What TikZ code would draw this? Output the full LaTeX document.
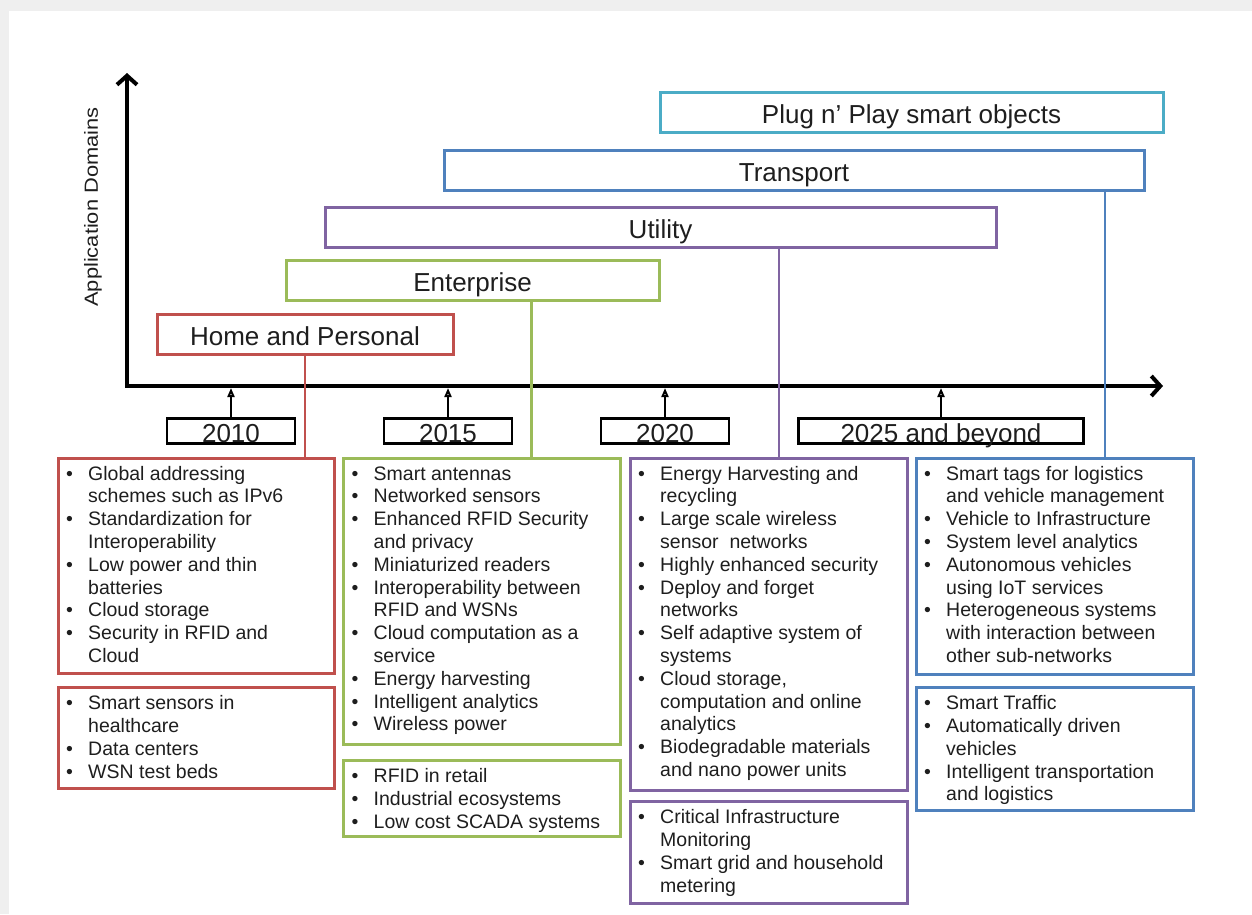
\documentclass[tikz,border=0pt]{standalone}
\usepackage{fontspec}
\setmainfont{Liberation Sans}
\usetikzlibrary{arrows.meta}

\definecolor{cred}{HTML}{C0504D}
\definecolor{cgreen}{HTML}{9BBB59}
\definecolor{cpurple}{HTML}{8064A2}
\definecolor{cblue}{HTML}{4F81BD}
\definecolor{ccyan}{HTML}{4BACC6}
\definecolor{ink}{HTML}{1E1E1E}
\definecolor{pagegray}{HTML}{EFEFEF}

% bulleted lines: first line of an item, and its continuation lines
\newcommand\bitem[1]{\makebox[22pt][l]{\textbullet}#1}
\newcommand\bcont[1]{\hspace*{22pt}#1}

\tikzset{
  domain/.style={draw=#1, line width=3pt, minimum height=40pt, inner sep=0pt,
    text height=22pt, text depth=0pt, text=ink, font=\fontsize{26}{30}\selectfont},
  yearbox/.style={draw=black, line width=2.5pt, minimum width=128pt, minimum height=25pt,
    inner sep=0pt, text height=22pt, text depth=0pt, text=ink, font=\fontsize{26}{30}\selectfont},
  listbox/.style={draw=#1, line width=3pt, anchor=north west, inner sep=0pt},
  listtext/.style={anchor=north west, inner sep=0pt, align=left, text=ink,
    font=\fontsize{19.5}{22.8}\selectfont},
  axisline/.style={line width=4pt, line join=miter, {Straight Barb[length=9pt,width=20pt]}-{Straight Barb[length=9pt,width=20pt]}},
  yeararrow/.style={line width=2.5pt, -{Triangle[open,length=9pt,width=7pt,line width=2pt]}},
  link/.style={draw=#1, line width=2.5pt},
}

\begin{document}
\begin{tikzpicture}[x=1pt,y=-1pt]
\useasboundingbox (0,0) rectangle (1252,914);
% page background and white sheet
\fill[pagegray] (0,0) rectangle (1252,914);
\fill[white] (9,11) rectangle (1252,914);

% axes
\coordinate (O) at (127,386);
\coordinate (ytop) at (127,73);
\coordinate (xend) at (1163,386);
\draw[axisline] (ytop) -- (O) -- (xend);
\node[rotate=90, text=ink, font=\fontsize{19}{22}\selectfont, inner sep=0pt] (ylab) at (93,207)
  {\scalebox{1.15}[1]{Application Domains}};

% application domains
\node[domain=ccyan, minimum width=503pt] (plug) at (911.5,112) {Plug n' Play smart objects};
\node[domain=cblue, minimum width=700pt] (trans) at (794,170) {Transport};
\node[domain=cpurple, minimum width=671pt] (util) at (660.5,227) {Utility};
\node[domain=cgreen, minimum width=373pt] (ent) at (472.5,280) {Enterprise};
\node[domain=cred, minimum width=296pt] (home) at (305,334) {Home and Personal};

% years
\node[yearbox] (y10) at (231,431) {2010};
\node[yearbox] (y15) at (448,431) {2015};
\node[yearbox] (y20) at (665,431) {2020};
\node[yearbox, minimum width=285pt] (y25) at (941,431) {2025 and beyond};
\foreach \y in {y10,y15,y20,y25}
  \draw[yeararrow] (\y.north) -- ([yshift=-2pt]\y.north |- O);

% technology lists
\node[listbox=cred, minimum width=276pt, minimum height=215pt] (r1) at (56.5,456.5) {};
\node[listbox=cred, minimum width=276pt, minimum height=101pt] (r2) at (56.5,686) {};
\node[listbox=cgreen, minimum width=277pt, minimum height=286pt] (g1) at (342,456.5) {};
\node[listbox=cgreen, minimum width=277pt, minimum height=76pt] (g2) at (342,759) {};
\node[listbox=cpurple, minimum width=277pt, minimum height=332pt] (p1) at (628.5,456.5) {};
\node[listbox=cpurple, minimum width=277pt, minimum height=102pt] (p2) at (628.5,800) {};
\node[listbox=cblue, minimum width=277pt, minimum height=216pt] (b1) at (914.5,456.5) {};
\node[listbox=cblue, minimum width=277pt, minimum height=123pt] (b2) at (914.5,686) {};

\node[listtext] (r1t) at ([xshift=9.5pt,yshift=-7.5pt]r1.north west) {\strut
  \bitem{Global addressing}\\ \bcont{schemes such as IPv6}\\
  \bitem{Standardization for}\\ \bcont{Interoperability}\\
  \bitem{Low power and thin}\\ \bcont{batteries}\\
  \bitem{Cloud storage}\\
  \bitem{Security in RFID and}\\ \bcont{Cloud}};
\node[listtext] (r2t) at ([xshift=9.5pt,yshift=-7.5pt]r2.north west) {\strut
  \bitem{Smart sensors in}\\ \bcont{healthcare}\\
  \bitem{Data centers}\\
  \bitem{WSN test beds}};
\node[listtext] (g1t) at ([xshift=9.5pt,yshift=-7.5pt]g1.north west) {\strut
  \bitem{Smart antennas}\\
  \bitem{Networked sensors}\\
  \bitem{Enhanced RFID Security}\\ \bcont{and privacy}\\
  \bitem{Miniaturized readers}\\
  \bitem{Interoperability between}\\ \bcont{RFID and WSNs}\\
  \bitem{Cloud computation as a}\\ \bcont{service}\\
  \bitem{Energy harvesting}\\
  \bitem{Intelligent analytics}\\
  \bitem{Wireless power}};
\node[listtext] (g2t) at ([xshift=9.5pt,yshift=-7.5pt]g2.north west) {\strut
  \bitem{RFID in retail}\\
  \bitem{Industrial ecosystems}\\
  \bitem{Low cost SCADA systems}};
\node[listtext] (p1t) at ([xshift=9.5pt,yshift=-7.5pt]p1.north west) {\strut
  \bitem{Energy Harvesting and}\\ \bcont{recycling}\\
  \bitem{Large scale wireless}\\ \bcont{sensor\ \ networks}\\
  \bitem{Highly enhanced security}\\
  \bitem{Deploy and forget}\\ \bcont{networks}\\
  \bitem{Self adaptive system of}\\ \bcont{systems}\\
  \bitem{Cloud storage,}\\ \bcont{computation and online}\\ \bcont{analytics}\\
  \bitem{Biodegradable materials}\\ \bcont{and nano power units}};
\node[listtext] (p2t) at ([xshift=9.5pt,yshift=-7.5pt]p2.north west) {\strut
  \bitem{Critical Infrastructure}\\ \bcont{Monitoring}\\
  \bitem{Smart grid and household}\\ \bcont{metering}};
\node[listtext] (b1t) at ([xshift=9.5pt,yshift=-7.5pt]b1.north west) {\strut
  \bitem{Smart tags for logistics}\\ \bcont{and vehicle management}\\
  \bitem{Vehicle to Infrastructure}\\
  \bitem{System level analytics}\\
  \bitem{Autonomous vehicles}\\ \bcont{using IoT services}\\
  \bitem{Heterogeneous systems}\\ \bcont{with interaction between}\\ \bcont{other sub-networks}};
\node[listtext] (b2t) at ([xshift=9.5pt,yshift=-7.5pt]b2.north west) {\strut
  \bitem{Smart Traffic}\\
  \bitem{Automatically driven}\\ \bcont{vehicles}\\
  \bitem{Intelligent transportation}\\ \bcont{and logistics}};

% links from each domain to its list
\coordinate (hx) at (305,0);
\coordinate (ex) at (531.5,0);
\coordinate (ux) at (779,0);
\coordinate (tx) at (1105,0);
\draw[link=cred] (home.south -| hx) -- (r1.north -| hx);
\draw[link=cgreen] (ent.south -| ex) -- (g1.north -| ex);
\draw[link=cpurple] (util.south -| ux) -- (p1.north -| ux);
\draw[link=cblue] (trans.south -| tx) -- (b1.north -| tx);
\end{tikzpicture}
\end{document}
